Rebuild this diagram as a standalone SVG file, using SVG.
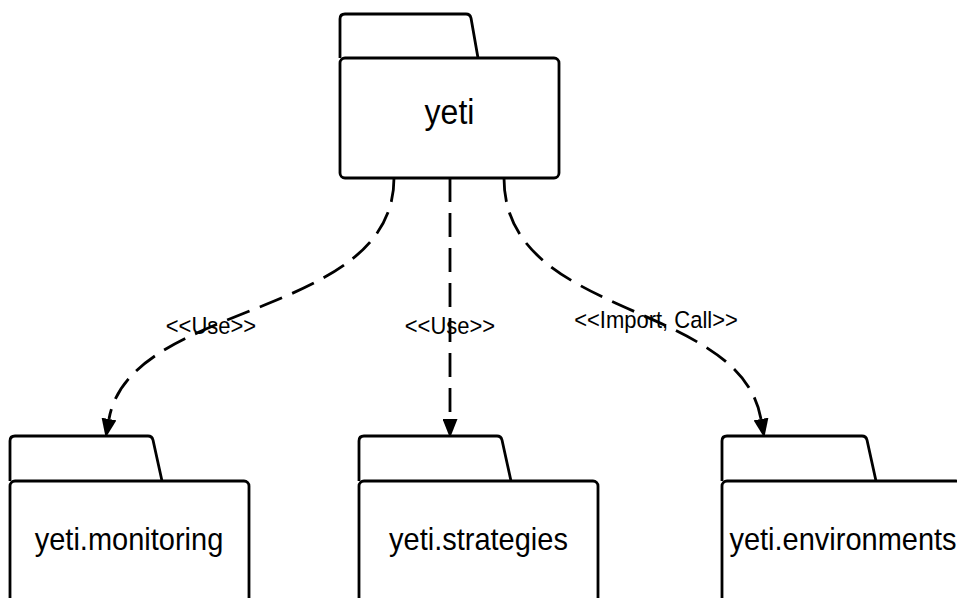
<svg xmlns="http://www.w3.org/2000/svg" width="957" height="598" viewBox="0 0 957 598">
<defs>
<style>
.shape{fill:#ffffff;stroke:#000000;stroke-width:2.8;stroke-linejoin:round}
.lbl{font-family:"Liberation Sans",Arial,sans-serif;fill:#000000;text-anchor:middle}
.node{font-size:29px}
.edge{fill:none;stroke:#000000;stroke-width:2.8;stroke-dasharray:24 11}
.elbl{font-size:22px}
</style>
<marker id="arrow" markerUnits="userSpaceOnUse" viewBox="0 0 19 15" refX="0" refY="7.5" markerWidth="19" markerHeight="15" orient="auto">
<path d="M0,0 L19,7.5 L0,15 Z" fill="#000000"/>
</marker>
</defs>
<rect width="957" height="598" fill="#ffffff"/>
<g id="connectors">
<path class="edge" d="M394,178 C394,320 130,300 109,419" marker-end="url(#arrow)"/>
<path class="edge" d="M450,178 L450,419" marker-end="url(#arrow)"/>
<path class="edge" d="M504,178 C504,320 740,300 761,419" marker-end="url(#arrow)"/>
<text class="lbl elbl" transform="translate(211,334) scale(1,1.08)">&lt;&lt;Use&gt;&gt;</text>
<text class="lbl elbl" transform="translate(450,334) scale(1,1.08)">&lt;&lt;Use&gt;&gt;</text>
<text class="lbl elbl" transform="translate(656,328) scale(1,1.08)">&lt;&lt;Import, Call&gt;&gt;</text>
</g>
<g id="yeti">
<path class="shape" d="M340,58 L340,19 Q340,14 345,14 L466,14 Q470,14 471,18 L478,58"/>
<rect class="shape" x="340" y="58" width="219" height="120" rx="5"/>
<text class="lbl" transform="translate(449.5,124) scale(1,1.1)" font-size="32">yeti</text>
</g>
<g id="yeti-monitoring">
<path class="shape" d="M10,481 L10,441 Q10,436 15,436 L148,436 Q152,436 153,440 L162,481"/>
<rect class="shape" x="10" y="481" width="239" height="140" rx="5"/>
<text class="lbl node" transform="translate(129,550) scale(1,1.1)">yeti.monitoring</text>
</g>
<g id="yeti-strategies">
<path class="shape" d="M359,481 L359,441 Q359,436 364,436 L497,436 Q501,436 502,440 L511,481"/>
<rect class="shape" x="359" y="481" width="239" height="140" rx="5"/>
<text class="lbl node" transform="translate(478.5,550) scale(1,1.1)">yeti.strategies</text>
</g>
<g id="yeti-environments">
<path class="shape" d="M722,481 L722,441 Q722,436 727,436 L862,436 Q866,436 867,440 L876,481"/>
<rect class="shape" x="722" y="481" width="239" height="140" rx="5"/>
<text class="lbl node" transform="translate(843,550) scale(1,1.1)">yeti.environments</text>
</g>
</svg>
